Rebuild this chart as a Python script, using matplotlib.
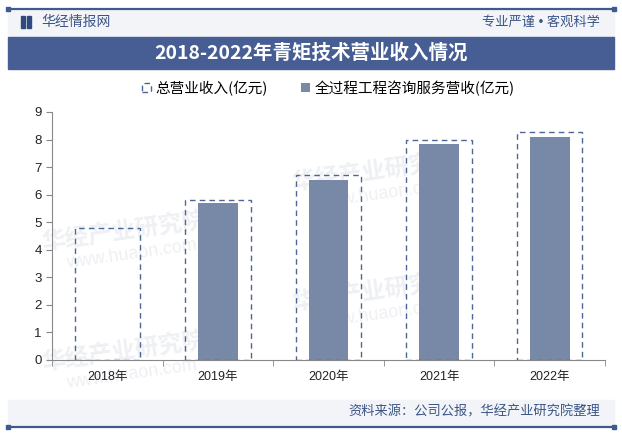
import numpy as np
import matplotlib
matplotlib.use("Agg")
import matplotlib.pyplot as plt
from matplotlib.patches import Rectangle

plt.rcParams['font.family'] = ['Liberation Sans', 'Noto Sans CJK SC', 'DejaVu Sans']

# data
years = ["2018年", "2019年", "2020年", "2021年", "2022年"]
total_revenue = [4.8, 5.8, 6.7, 8.0, 8.26]
consulting_revenue = [np.nan, 5.7, 6.55, 7.85, 8.1]
title = "2018-2022年青矩技术营业收入情况"
legend_labels = ["总营业收入(亿元)", "全过程工程咨询服务营收(亿元)"]
source = "资料来源：公司公报，华经产业研究院整理"

W, H = 622, 434
fig = plt.figure(figsize=(W / 100, H / 100), dpi=100)


def fx(px):
    return px / W


def fy(py):
    return 1 - py / H


navy = "#3f5a8f"
band = "#465e93"
light = "#f2f4f8"
bar_color = "#7889a8"
edge_color = "#4d6794"

# header background and title band
fig.patches.append(Rectangle((fx(8), fy(37)), fx(606), 27 / H, transform=fig.transFigure,
                             color=light, zorder=0))
fig.patches.append(Rectangle((fx(8), fy(69)), fx(606), 32 / H, transform=fig.transFigure,
                             color=band, zorder=0))
fig.patches.append(Rectangle((fx(8), fy(425)), fx(606), 25 / H, transform=fig.transFigure,
                             color=light, zorder=0))
for yy in (9, 427):
    fig.add_artist(plt.Line2D([fx(8), fx(614)], [fy(yy), fy(yy)], color=navy, lw=1.6))
    for xx in (8, 614):
        fig.add_artist(plt.Line2D([fx(xx)], [fy(yy)], marker="s", ms=3, color=navy))

# logo
fig.patches.append(Rectangle((fx(21), fy(28)), 4 / W, 12 / H, transform=fig.transFigure,
                             color="#2f4a7e"))
fig.patches.append(Rectangle((fx(27), fy(28)), 4 / W, 12 / H, transform=fig.transFigure,
                             color="#2f4a7e"))
fig.text(fx(41), fy(22), "华经情报网", fontsize=10, color="#3b5587", va="center", ha="left")
fig.text(fx(600), fy(22), "专业严谨 • 客观科学", fontsize=9.5, color="#3b5587",
         va="center", ha="right")
fig.text(0.5, fy(53), title, fontsize=14, color="white", fontweight="bold",
         va="center", ha="center", family=["Noto Sans CJK SC"])
fig.text(fx(600), fy(412), source, fontsize=9.5, color="#3b5587", va="center", ha="right")

ax = fig.add_axes([fx(52), fy(360), fx(605) - fx(52), (360 - 112) / H])
ax.patch.set_alpha(0)

# faint watermarks behind the bars
for (wx, wy) in [(40, 250), (40, 370), (290, 190), (290, 310)]:
    ax.text(fx(wx), fy(wy), "华经产业研究院", fontsize=17, color="#eef0f4",
            rotation=8, fontweight="bold", zorder=0.5, family=["Noto Sans CJK SC"],
            transform=fig.transFigure, clip_on=False)
    ax.text(fx(wx + 25), fy(wy + 18), "www.huaon.com", fontsize=13, color="#eef0f4",
            rotation=8, zorder=0.5, transform=fig.transFigure, clip_on=False)

x = np.arange(len(years))
ax.bar(x, total_revenue, width=0.59, fill=False, edgecolor=edge_color, linestyle=(0, (4, 3)),
       linewidth=1, label=legend_labels[0], zorder=3)
ax.bar(x, consulting_revenue, width=0.36, color=bar_color, label=legend_labels[1], zorder=2)

ax.set_xlim(-0.5, len(years) - 0.5)
ax.set_ylim(0, 9)
ax.set_yticks(range(0, 10))
ax.set_xticks(x)
ax.set_xticklabels(years)
ax.set_xticks(np.arange(-0.5, len(years)), minor=True)
ax.tick_params(axis="x", which="major", length=0, pad=8, labelsize=9, labelcolor="#222222")
ax.tick_params(axis="x", which="minor", length=4, color="#888888")
ax.tick_params(axis="y", length=4, color="#888888", labelsize=9.5, labelcolor="#222222")
for s in ("top", "right"):
    ax.spines[s].set_visible(False)
for s in ("left", "bottom"):
    ax.spines[s].set_color("#888888")

ax.legend(loc="center", bbox_to_anchor=(0.5, (fy(88) - fy(360)) / ((360 - 112) / H)),
          ncol=2, frameon=False, prop={"family": "Noto Sans CJK SC", "size": 10.5},
          handlelength=0.6, handleheight=0.6, handletextpad=0.3, columnspacing=2.3)

fig.savefig("out.png", dpi=100)
